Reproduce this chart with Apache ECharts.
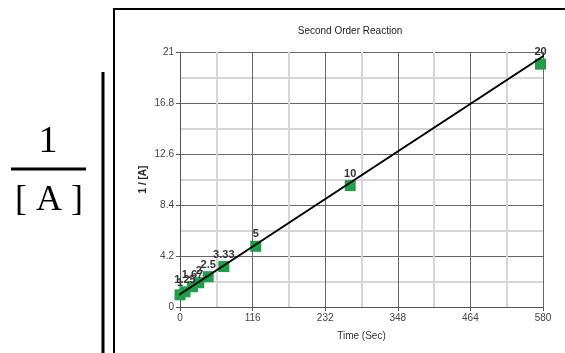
<!DOCTYPE html>
<html>
<head>
<meta charset="utf-8">
<script src="https://cdn.jsdelivr.net/npm/echarts@6/dist/echarts.min.js"></script>
<style>
  html, body { margin: 0; padding: 0; background: #fff; }
  #chart { width: 565px; height: 353px; }
</style>
</head>
<body>
<div id="chart"></div>
<script>
// measured points: time (s) and 1/[A]
const times = [0, 8, 20, 30, 45, 70, 121, 272, 576];
const invConc = [1, 1.25, 1.67, 2, 2.5, 3.33, 5, 10, 20];
const pointLabels = ["1", "1.25", "1.67", "2", "2.5", "3.33", "5", "10", "20"];

// drawn trend line end points
const trendX = [-8, 586];
const trendY = [0.78, 20.85];

const xTicks = [0, 116, 232, 348, 464, 580];
const yTicks = [0, 4.2, 8.4, 12.6, 16.8, 21];

const chart = echarts.init(document.getElementById("chart"));

const points = times.map((t, i) => [t, invConc[i]]);
const trend = trendX.map((t, i) => [t, trendY[i]]);

const sans = "Liberation Sans, Arial, sans-serif";
const axisText = { color: "#444", fontSize: 10, fontFamily: sans };

chart.setOption({
  animation: false,
  title: {
    text: "Second Order Reaction",
    left: 345,
    top: 21,
    textAlign: "center",
    textStyle: { fontSize: 10, fontWeight: "normal", color: "#222", fontFamily: sans },
  },
  grid: { left: 180, right: 22, top: 52, bottom: 46 },
  xAxis: {
    type: "value",
    min: xTicks[0],
    max: xTicks[xTicks.length - 1],
    interval: xTicks[1] - xTicks[0],
    name: "Time (Sec)",
    nameLocation: "middle",
    nameGap: 24,
    nameTextStyle: { color: "#333", fontSize: 10, fontFamily: sans },
    axisLine: { show: true, lineStyle: { color: "#555", width: 1 } },
    axisTick: { show: true, length: 4, lineStyle: { color: "#555" } },
    axisLabel: Object.assign({ margin: 6 }, axisText),
    splitLine: { show: true, lineStyle: { color: "#666", width: 1 } },
    minorTick: { show: false, splitNumber: 2 },
    minorSplitLine: { show: true, lineStyle: { color: "#d6d6d6", width: 2 } },
  },
  yAxis: {
    type: "value",
    min: yTicks[0],
    max: yTicks[yTicks.length - 1],
    interval: yTicks[1] - yTicks[0],
    name: "1 / [A]",
    nameLocation: "middle",
    nameGap: 32,
    nameMoveOverlap: false,
    nameTextStyle: { color: "#222", fontSize: 10, fontWeight: "bold", fontFamily: sans },
    axisLine: { show: true, lineStyle: { color: "#555", width: 1 } },
    axisTick: { show: true, length: 4, lineStyle: { color: "#555" } },
    axisLabel: Object.assign({ margin: 6, formatter: (v) => String(+v.toFixed(1)) }, axisText),
    splitLine: { show: true, lineStyle: { color: "#666", width: 1 } },
    minorTick: { show: false, splitNumber: 2 },
    minorSplitLine: { show: true, lineStyle: { color: "#d6d6d6", width: 2 } },
  },
  series: [
    {
      type: "scatter",
      data: points,
      symbol: "rect",
      symbolSize: 11,
      itemStyle: { color: "#1f9f48", opacity: 1 },
      label: {
        show: true,
        position: "top",
        distance: 1,
        fontSize: 11,
        fontWeight: "bold",
        color: "#333",
        fontFamily: sans,
        formatter: (p) => pointLabels[p.dataIndex],
      },
      z: 2,
    },
    {
      type: "line",
      data: trend,
      symbol: "none",
      clip: false,
      lineStyle: { color: "#000", width: 2 },
      z: 3,
    },
  ],
  graphic: [
    // chart frame
    { type: "rect", shape: { x: 114, y: 9, width: 460, height: 360 }, style: { fill: null, stroke: "#000", lineWidth: 2 } },
    // separator line
    { type: "line", shape: { x1: 103, y1: 72, x2: 103, y2: 360 }, style: { stroke: "#000", lineWidth: 3 } },
    // fraction 1 / [A]
    { type: "text", x: 48, y: 142, style: { text: "1", font: "38px 'Liberation Serif', 'Times New Roman', serif", fill: "#000", align: "center", verticalAlign: "middle" } },
    { type: "line", shape: { x1: 11, y1: 169, x2: 86, y2: 169 }, style: { stroke: "#000", lineWidth: 3 } },
    { type: "text", x: 49, y: 201, style: { text: "[ A ]", font: "36px 'Liberation Serif', 'Times New Roman', serif", fill: "#000", align: "center", verticalAlign: "middle" } },
  ],
});
</script>
</body>
</html>
